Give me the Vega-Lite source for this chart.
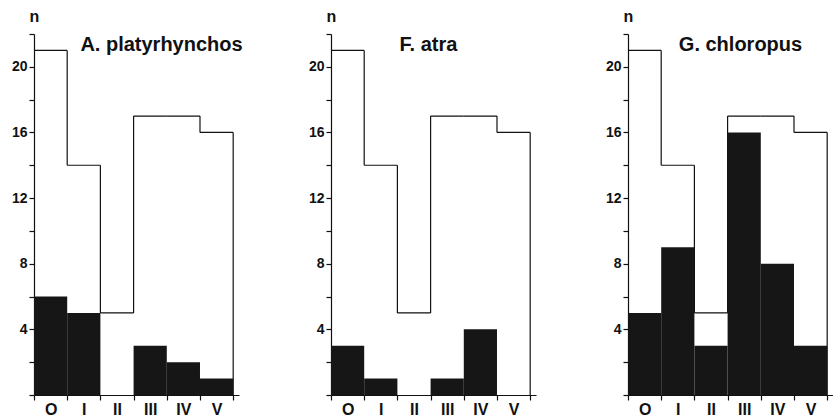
{
  "$schema": "https://vega.github.io/schema/vega-lite/v6.json",
  "background": "white",
  "padding": {"left": 11, "top": 8, "right": 0, "bottom": 0},
  "bounds": "flush",
  "spacing": 92,
  "datasets": {
    "birds": [
      {"species": "A. platyrhynchos", "cls": "O", "total": 21, "count": 6},
      {"species": "A. platyrhynchos", "cls": "I", "total": 14, "count": 5},
      {"species": "A. platyrhynchos", "cls": "II", "total": 5, "count": 0},
      {"species": "A. platyrhynchos", "cls": "III", "total": 17, "count": 3},
      {"species": "A. platyrhynchos", "cls": "IV", "total": 17, "count": 2},
      {"species": "A. platyrhynchos", "cls": "V", "total": 16, "count": 1},
      {"species": "F. atra", "cls": "O", "total": 21, "count": 3},
      {"species": "F. atra", "cls": "I", "total": 14, "count": 1},
      {"species": "F. atra", "cls": "II", "total": 5, "count": 0},
      {"species": "F. atra", "cls": "III", "total": 17, "count": 1},
      {"species": "F. atra", "cls": "IV", "total": 17, "count": 4},
      {"species": "F. atra", "cls": "V", "total": 16, "count": 0},
      {"species": "G. chloropus", "cls": "O", "total": 21, "count": 5},
      {"species": "G. chloropus", "cls": "I", "total": 14, "count": 9},
      {"species": "G. chloropus", "cls": "II", "total": 5, "count": 3},
      {"species": "G. chloropus", "cls": "III", "total": 17, "count": 16},
      {"species": "G. chloropus", "cls": "IV", "total": 17, "count": 8},
      {"species": "G. chloropus", "cls": "V", "total": 16, "count": 3}
    ]
  },
  "config": {
    "view": {"stroke": null},
    "font": "Liberation Sans",
    "axis": {
      "domainColor": "#111", "tickColor": "#111", "labelColor": "#111", "titleColor": "#111",
      "grid": false, "labelFont": "Liberation Sans", "labelFontWeight": "bold",
      "titleFont": "Liberation Sans", "domainWidth": 1.2, "tickWidth": 1.2
    },
    "title": {"font": "Liberation Sans", "fontWeight": "bold", "fontSize": 20, "color": "#111"}
  },
  "hconcat": [
    {
      "width": 205, "height": 361,
      "title": {"text": "A. platyrhynchos", "dx": 25, "dy": 57, "offset": 0, "baseline": "middle", "anchor": "middle", "frame": "group"},
      "data": {"name": "birds"},
      "transform": [
        {"filter": "datum.species === 'A. platyrhynchos'"},
        {"window": [{"op": "lag", "field": "total", "as": "prev"}]}
      ],
      "encoding": {
        "x": {"field": "cls", "type": "ordinal", "scale": {"type": "band", "domain": ["O", "I", "II", "III", "IV", "V"], "paddingInner": 0, "paddingOuter": 0.0875, "align": 0},
          "axis": {"title": null, "labelAngle": 0, "labelFontSize": 16, "labelPadding": 1, "tickSize": 5, "tickBand": "extent"}},
        "y": {"field": "total", "type": "quantitative", "scale": {"domain": [0, 22], "nice": false},
          "axis": {"values": [0, 2, 4, 6, 8, 10, 12, 14, 16, 18, 20, 22], "labelExpr": "datum.value % 4 === 0 && datum.value > 0 ? datum.label : ''", "labelFontSize": 14, "labelPadding": 2, "tickSize": 5,
            "title": "n", "titleAngle": 0, "titleX": 0, "titleY": -18, "titleAlign": "center", "titleBaseline": "middle", "titleFontSize": 16, "titleFontWeight": "bold"}}
      },
      "layer": [
        {"mark": {"type": "bar", "fillOpacity": 0, "stroke": "#111", "strokeWidth": 1.2}, "encoding": {"y2": {"field": "total"}}},
        {"transform": [{"filter": "datum.prev != null"}], "mark": {"type": "rule", "color": "#111", "strokeWidth": 1.2},
          "encoding": {"x": {"field": "cls", "type": "ordinal", "bandPosition": 0}, "y2": {"field": "prev"}}},
        {"transform": [{"filter": "datum.cls === 'V'"}], "mark": {"type": "rule", "color": "#111", "strokeWidth": 1.2},
          "encoding": {"x": {"field": "cls", "type": "ordinal", "bandPosition": 1}, "y2": {"datum": 0}}},
        {"mark": {"type": "bar", "fill": "#161616"}, "encoding": {"y": {"field": "count", "type": "quantitative"}}}
      ]
    },
    {
      "width": 205, "height": 361,
      "title": {"text": "F. atra", "dx": -5, "dy": 57, "offset": 0, "baseline": "middle", "anchor": "middle", "frame": "group"},
      "data": {"name": "birds"},
      "transform": [
        {"filter": "datum.species === 'F. atra'"},
        {"window": [{"op": "lag", "field": "total", "as": "prev"}]}
      ],
      "encoding": {
        "x": {"field": "cls", "type": "ordinal", "scale": {"type": "band", "domain": ["O", "I", "II", "III", "IV", "V"], "paddingInner": 0, "paddingOuter": 0.0875, "align": 0},
          "axis": {"title": null, "labelAngle": 0, "labelFontSize": 16, "labelPadding": 1, "tickSize": 5, "tickBand": "extent"}},
        "y": {"field": "total", "type": "quantitative", "scale": {"domain": [0, 22], "nice": false},
          "axis": {"values": [0, 2, 4, 6, 8, 10, 12, 14, 16, 18, 20, 22], "labelExpr": "datum.value % 4 === 0 && datum.value > 0 ? datum.label : ''", "labelFontSize": 14, "labelPadding": 2, "tickSize": 5,
            "title": "n", "titleAngle": 0, "titleX": 0, "titleY": -18, "titleAlign": "center", "titleBaseline": "middle", "titleFontSize": 16, "titleFontWeight": "bold"}}
      },
      "layer": [
        {"mark": {"type": "bar", "fillOpacity": 0, "stroke": "#111", "strokeWidth": 1.2}, "encoding": {"y2": {"field": "total"}}},
        {"transform": [{"filter": "datum.prev != null"}], "mark": {"type": "rule", "color": "#111", "strokeWidth": 1.2},
          "encoding": {"x": {"field": "cls", "type": "ordinal", "bandPosition": 0}, "y2": {"field": "prev"}}},
        {"transform": [{"filter": "datum.cls === 'V'"}], "mark": {"type": "rule", "color": "#111", "strokeWidth": 1.2},
          "encoding": {"x": {"field": "cls", "type": "ordinal", "bandPosition": 1}, "y2": {"datum": 0}}},
        {"mark": {"type": "bar", "fill": "#161616"}, "encoding": {"y": {"field": "count", "type": "quantitative"}}}
      ]
    },
    {
      "width": 205, "height": 361,
      "title": {"text": "G. chloropus", "dx": 10, "dy": 57, "offset": 0, "baseline": "middle", "anchor": "middle", "frame": "group"},
      "data": {"name": "birds"},
      "transform": [
        {"filter": "datum.species === 'G. chloropus'"},
        {"window": [{"op": "lag", "field": "total", "as": "prev"}]}
      ],
      "encoding": {
        "x": {"field": "cls", "type": "ordinal", "scale": {"type": "band", "domain": ["O", "I", "II", "III", "IV", "V"], "paddingInner": 0, "paddingOuter": 0.0875, "align": 0},
          "axis": {"title": null, "labelAngle": 0, "labelFontSize": 16, "labelPadding": 1, "tickSize": 5, "tickBand": "extent"}},
        "y": {"field": "total", "type": "quantitative", "scale": {"domain": [0, 22], "nice": false},
          "axis": {"values": [0, 2, 4, 6, 8, 10, 12, 14, 16, 18, 20, 22], "labelExpr": "datum.value % 4 === 0 && datum.value > 0 ? datum.label : ''", "labelFontSize": 14, "labelPadding": 2, "tickSize": 5,
            "title": "n", "titleAngle": 0, "titleX": 0, "titleY": -18, "titleAlign": "center", "titleBaseline": "middle", "titleFontSize": 16, "titleFontWeight": "bold"}}
      },
      "layer": [
        {"mark": {"type": "bar", "fillOpacity": 0, "stroke": "#111", "strokeWidth": 1.2}, "encoding": {"y2": {"field": "total"}}},
        {"transform": [{"filter": "datum.prev != null"}], "mark": {"type": "rule", "color": "#111", "strokeWidth": 1.2},
          "encoding": {"x": {"field": "cls", "type": "ordinal", "bandPosition": 0}, "y2": {"field": "prev"}}},
        {"transform": [{"filter": "datum.cls === 'V'"}], "mark": {"type": "rule", "color": "#111", "strokeWidth": 1.2},
          "encoding": {"x": {"field": "cls", "type": "ordinal", "bandPosition": 1}, "y2": {"datum": 0}}},
        {"mark": {"type": "bar", "fill": "#161616"}, "encoding": {"y": {"field": "count", "type": "quantitative"}}}
      ]
    }
  ]
}
